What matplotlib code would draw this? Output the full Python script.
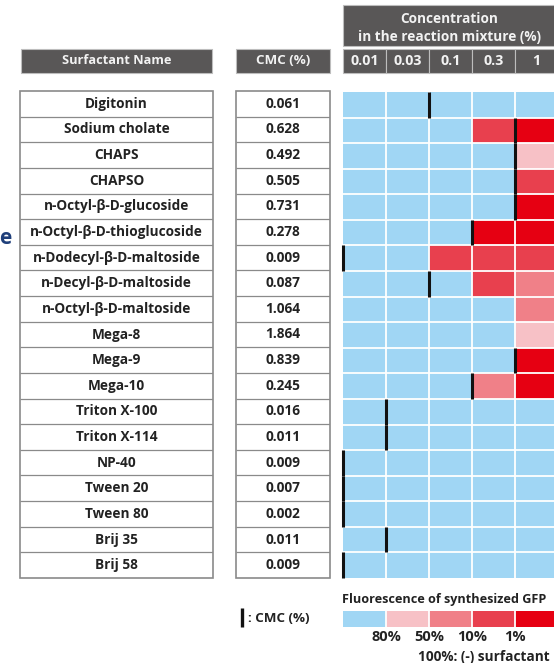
import numpy as np
import matplotlib
matplotlib.use('Agg')
import matplotlib.pyplot as plt
from matplotlib.colors import ListedColormap
from matplotlib.patches import Rectangle

plt.rcParams['font.family'] = ['Open Sans', 'DejaVu Sans']

surfactants = [
    'Digitonin', 'Sodium cholate', 'CHAPS', 'CHAPSO',
    'n-Octyl-β-D-glucoside', 'n-Octyl-β-D-thioglucoside',
    'n-Dodecyl-β-D-maltoside', 'n-Decyl-β-D-maltoside',
    'n-Octyl-β-D-maltoside', 'Mega-8', 'Mega-9', 'Mega-10',
    'Triton X-100', 'Triton X-114', 'NP-40', 'Tween 20', 'Tween 80',
    'Brij 35', 'Brij 58',
]
cmc = [0.061, 0.628, 0.492, 0.505, 0.731, 0.278, 0.009, 0.087, 1.064,
       1.864, 0.839, 0.245, 0.016, 0.011, 0.009, 0.007, 0.002, 0.011, 0.009]
cmc_labels = ['0.061', '0.628', '0.492', '0.505', '0.731', '0.278', '0.009',
              '0.087', '1.064', '1.864', '0.839', '0.245', '0.016', '0.011',
              '0.009', '0.007', '0.002', '0.011', '0.009']
concentrations = [0.01, 0.03, 0.1, 0.3, 1]
conc_labels = ['0.01', '0.03', '0.1', '0.3', '1']

# fluorescence class per concentration: 0 >80%, 1 ~80%, 2 ~50%, 3 ~10%, 4 ~1%
fluorescence = [
    [0, 0, 0, 0, 0],
    [0, 0, 0, 3, 4],
    [0, 0, 0, 0, 1],
    [0, 0, 0, 0, 3],
    [0, 0, 0, 0, 4],
    [0, 0, 0, 4, 4],
    [0, 0, 3, 3, 3],
    [0, 0, 0, 3, 2],
    [0, 0, 0, 0, 2],
    [0, 0, 0, 0, 1],
    [0, 0, 0, 0, 4],
    [0, 0, 0, 2, 4],
    [0, 0, 0, 0, 0],
    [0, 0, 0, 0, 0],
    [0, 0, 0, 0, 0],
    [0, 0, 0, 0, 0],
    [0, 0, 0, 0, 0],
    [0, 0, 0, 0, 0],
    [0, 0, 0, 0, 0],
]
legend_classes = [0, 1, 2, 3, 4]
legend_labels = ['80%', '50%', '10%', '1%']

colors = ['#a0d6f4', '#f7c1c6', '#f08088', '#e8404e', '#e60012']
cmap = ListedColormap(colors)
HEAD = '#595757'
EDGE = '#8a8a8a'
TXT = '#222222'

W, H = 554, 663


def rect(x0, y0, x1, y1):
    return [x0 / W, 1 - y1 / H, (x1 - x0) / W, (y1 - y0) / H]


fig = plt.figure(figsize=(W / 100, H / 100), dpi=100)

# overlay for headers and free text, in pixel units
deco = fig.add_axes([0, 0, 1, 1])
deco.set_xlim(0, W)
deco.set_ylim(H, 0)
deco.axis('off')


def header_box(x0, y0, x1, y1, text=None, size=9.2):
    deco.add_patch(Rectangle((x0, y0), x1 - x0, y1 - y0, facecolor=HEAD,
                             edgecolor='#bdbdbd', lw=0.8))
    if text:
        deco.text((x0 + x1) / 2, (y0 + y1) / 2, text, color='#f2f2f2',
                  ha='center', va='center', fontsize=size, fontweight='bold')


n_rows = len(surfactants)
n_cols = len(concentrations)
cw = 43
header_box(21, 49, 212, 73, 'Surfactant Name')
header_box(236, 49, 330, 73, 'CMC (%)', size=9.6)
header_box(343, 5, 343 + n_cols * cw, 46)
deco.text(449, 19, 'Concentration', color='#f2f2f2', ha='center',
          va='center', fontsize=9.8, fontweight='bold')
deco.text(449, 37, 'in the reaction mixture (%)', color='#f2f2f2',
          ha='center', va='center', fontsize=9.8, fontweight='bold')
for i, lab in enumerate(conc_labels):
    header_box(343 + i * cw, 49, 343 + (i + 1) * cw, 73, lab, size=10.3)

deco.text(11, 239, 'e', color='#1f3f7a', ha='right', va='center',
          fontsize=15, fontweight='bold')

# name and CMC tables
for (x0, x1, labels) in [(20, 213, surfactants), (236, 330, cmc_labels)]:
    tab = fig.add_axes(rect(x0, 91, x1, 578))
    tab.set_xlim(0, 1)
    tab.set_ylim(n_rows, 0)
    tab.axis('off')
    tab.add_patch(Rectangle((0, 0), 1, n_rows, facecolor='white',
                            edgecolor=EDGE, lw=1.2, clip_on=False))
    tab.hlines(np.arange(1, n_rows), 0, 1, color=EDGE, lw=0.9)
    for r, lab in enumerate(labels):
        tab.text(0.5, r + 0.5, lab, ha='center', va='center', fontsize=9.8,
                 fontweight='bold', color=TXT)

# heatmap
hm = fig.add_axes(rect(343, 92, 343 + n_cols * cw, 578))
hm.imshow(np.array(fluorescence), cmap=cmap, vmin=-0.5, vmax=4.5,
          extent=(0, n_cols, n_rows, 0), aspect='auto', interpolation='nearest')
hm.set_xlim(0, n_cols)
hm.set_ylim(n_rows, 0)
hm.axis('off')
hm.hlines(np.arange(1, n_rows), 0, n_cols, color='white', lw=1.3)
hm.vlines(np.arange(1, n_cols), 0, n_rows, color='white', lw=1.3)
cmc_pos = np.searchsorted(concentrations, cmc)
for r, p in enumerate(cmc_pos):
    hm.vlines(p, r, r + 1, color='#111111', lw=2.2, clip_on=False)

# legend
deco.text(342, 600, 'Fluorescence of synthesized GFP', ha='left', va='center',
          fontsize=9.1, fontweight='bold', color=TXT)
lg = fig.add_axes(rect(343, 611, 343 + n_cols * cw, 627))
lg.imshow(np.array([legend_classes]), cmap=cmap, vmin=-0.5, vmax=4.5,
          extent=(0, n_cols, 1, 0), aspect='auto', interpolation='nearest')
lg.vlines(np.arange(1, n_cols), 0, 1, color='white', lw=1.3)
lg.set_xlim(0, n_cols)
lg.set_ylim(1, 0)
lg.axis('off')
for i, lab in enumerate(legend_labels):
    lg.text(i + 1, 1.65, lab, ha='center', va='center', fontsize=10.5,
            fontweight='bold', color=TXT)
deco.text(418, 657, '100%: (-) surfactant', ha='left', va='center',
          fontsize=9.8, fontweight='bold', color=TXT)

deco.vlines(242, 608, 627, color='#111111', lw=2.4)
deco.text(248, 618, ': CMC (%)', ha='left', va='center', fontsize=9.6,
          fontweight='bold', color=TXT)

fig.savefig('out.png', dpi=100)
